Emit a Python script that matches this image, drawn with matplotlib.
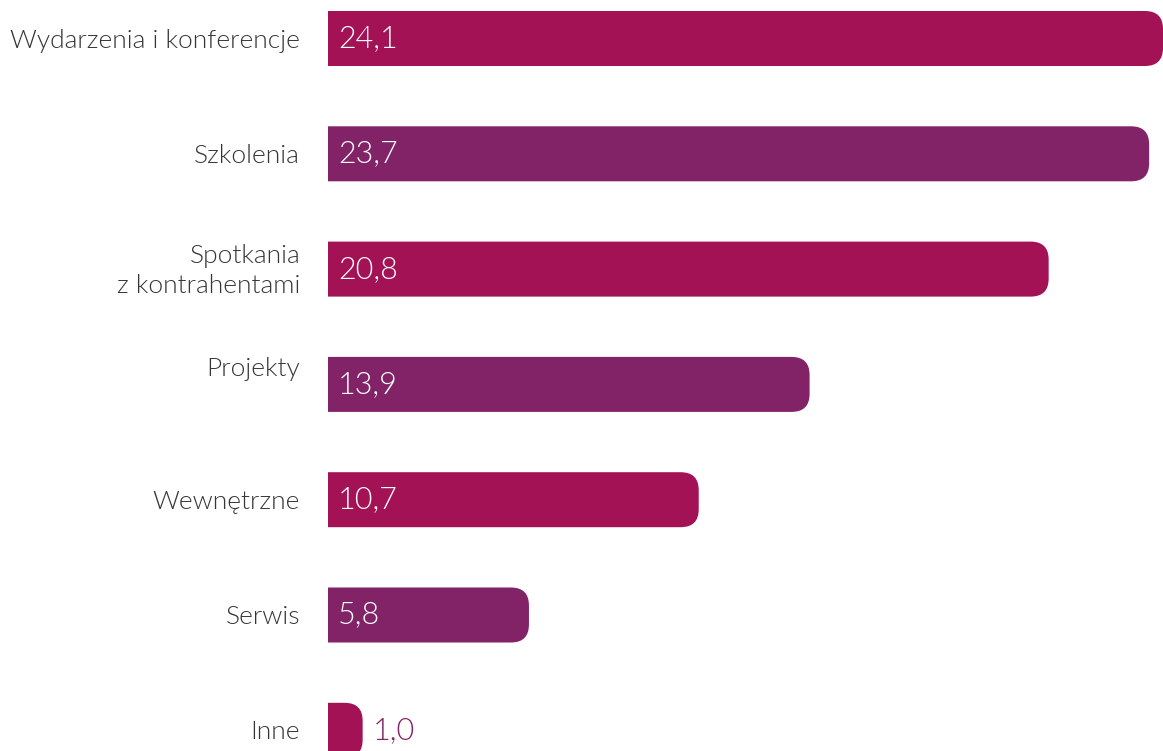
import matplotlib.pyplot as plt
from matplotlib.patches import FancyBboxPatch

# data
categories = ["Wydarzenia i konferencje", "Szkolenia", "Spotkania\nz kontrahentami",
              "Projekty\n", "Wewnętrzne", "Serwis", "Inne"]
values = [24.1, 23.7, 20.8, 13.9, 10.7, 5.8, 1.0]
value_labels = ["24,1", "23,7", "20,8", "13,9", "10,7", "5,8", "1,0"]

magenta = "#A31255"
purple = "#822368"
colors = [magenta, purple] * 4

W, H = 1163, 751
fig = plt.figure(figsize=(W / 100, H / 100), dpi=100)
ax_left = 328 / W
ax = fig.add_axes([ax_left, 0, 1 - ax_left, 1])

step = 115.3          # px between bars
top0 = 38.5           # px centre of first bar
ax.set_ylim((H - top0) / step, -top0 / step)
ax.set_xlim(0, 24.1)

px_x = 24.1 / (W - 328)      # data units per px in x
px_y = 1 / step              # data units per px in y
bar_h = 55 * px_y
r = 18 * px_x
aspect = px_y / px_x

for i, (v, c) in enumerate(zip(values, colors)):
    y0 = i - bar_h / 2
    # start left of the axis so the left corners are clipped off
    ax.add_patch(FancyBboxPatch((-1, y0), v + 1, bar_h,
                                boxstyle=f"round,pad=0,rounding_size={r}",
                                mutation_aspect=aspect, fc=c, ec="none"))
    if v > 3:
        ax.text(10 * px_x, i, value_labels[i], color="white", fontsize=22,
                fontfamily="Lato", fontweight=300, va="center", ha="left")
    else:
        ax.text(v + 10 * px_x, i, value_labels[i], color=purple, fontsize=22,
                fontfamily="Lato", fontweight=300, va="center", ha="left")

    # category label left of the bar
    ax.annotate(categories[i], (0, i), xytext=(-20, -1.5), textcoords="offset points",
                ha="right", va="center", ma="right", fontsize=19,
                fontfamily="Lato", fontweight=300, color="#363636",
                linespacing=1.55 if categories[i].endswith("\n") else 1.32,
                annotation_clip=False)

ax.set_yticks([])
ax.set_xticks([])
for s in ax.spines.values():
    s.set_visible(False)

fig.savefig("out.png", dpi=100)
